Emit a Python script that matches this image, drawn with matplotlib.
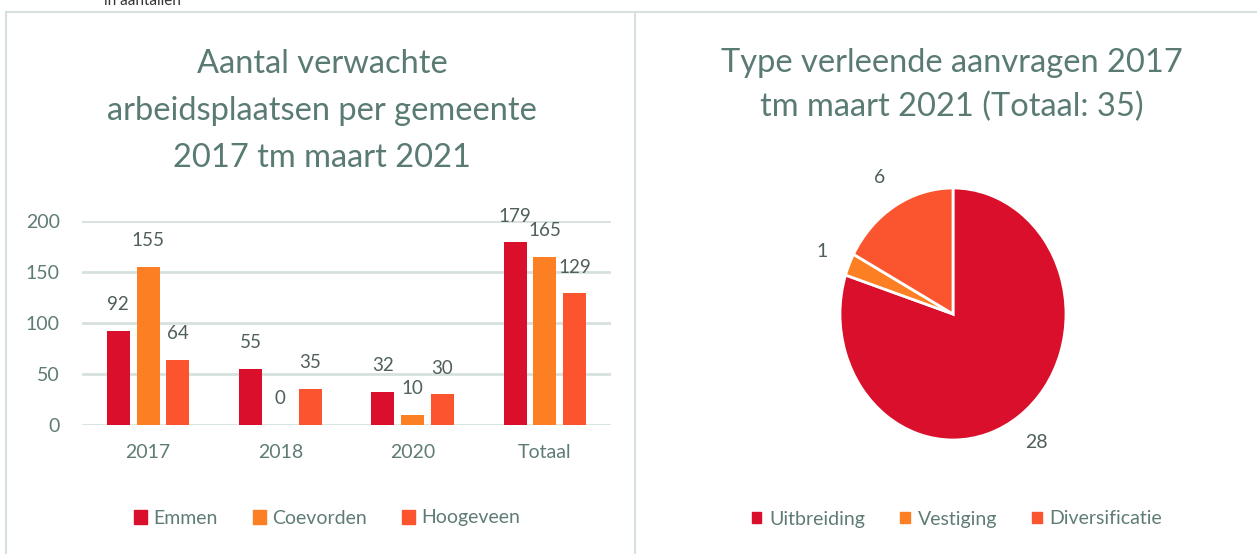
import matplotlib.pyplot as plt
from matplotlib.patches import Patch
from matplotlib.lines import Line2D

# === Données ===
jaren = ["2017", "2018", "2020", "Totaal"]
emmen = [92, 55, 32, 179]
coevorden = [155, 0, 10, 165]
hoogeveen = [64, 35, 30, 129]
gemeenten = ["Emmen", "Coevorden", "Hoogeveen"]

types = ["Uitbreiding", "Vestiging", "Diversificatie"]
aantallen = [28, 1, 6]

# === Style ===
plt.rcParams["font.family"] = ["Lato", "DejaVu Sans"]
C_TITLE = "#5a7a74"
C_TICK = "#5f7b76"
C_LABEL = "#4f5f5b"
C_GRID = "#d6e1de"
bar_colors = ["#d90f2c", "#fd7f23", "#fb542e"]
pie_colors = ["#da0f2b", "#fd7f23", "#fb5530"]

W, H = 1257, 554
fig = plt.figure(figsize=(W / 100, H / 100), dpi=100)


def fx(px):
    return px / W


def fy(py):
    return 1 - py / H


# === Cadres ===
fig.add_artist(Line2D([fx(6), fx(6)], [fy(12), 0], color=C_GRID, lw=1.5))
fig.add_artist(Line2D([fx(6), 1], [fy(12), fy(12)], color=C_GRID, lw=1.5))
fig.add_artist(Line2D([fx(635), fx(635)], [fy(12), 0], color=C_GRID, lw=1.5))

fig.text(fx(104), fy(5), "in aantallen", fontsize=11, color="#333333", va="baseline")

# === Graphique en barres ===
ax = fig.add_axes([fx(82), fy(425), fx(611 - 82), (425 - 221) / H])
x = range(len(jaren))
width = 0.175
step = 0.225
for i, (serie, naam) in enumerate(zip([emmen, coevorden, hoogeveen], gemeenten)):
    pos = [xi + (i - 1) * step for xi in x]
    bars = ax.bar(pos, serie, width=width, color=bar_colors[i], label=naam, zorder=3)
    for b, v in zip(bars, serie):
        ax.annotate(str(v), (b.get_x() + b.get_width() / 2, v), xytext=(0, 19),
                    textcoords="offset points", ha="center", va="center",
                    fontsize=13.5, color=C_LABEL, annotation_clip=False)

ax.set_xlim(-0.5, 3.5)
ax.set_ylim(0, 200)
ax.set_yticks([0, 50, 100, 150, 200])
ax.set_xticks(list(x))
ax.set_xticklabels(jaren)
ax.tick_params(length=0, labelsize=14, labelcolor=C_TICK)
ax.tick_params(axis="x", pad=14)
ax.tick_params(axis="y", pad=16)
ax.grid(axis="y", color=C_GRID, lw=2, zorder=0)
for s in ax.spines.values():
    s.set_visible(False)
ax.set_facecolor("none")

fig.text(fx(322), fy(111), "Aantal verwachte\narbeidsplaatsen per gemeente\n2017 tm maart 2021",
         ha="center", va="center", fontsize=23.5, color=C_TITLE, linespacing=1.7)

handles = [Patch(color=c) for c in bar_colors]
fig.legend(handles, gemeenten, loc="center", bbox_to_anchor=(fx(327), fy(518)), ncol=3,
           frameon=False, fontsize=14, labelcolor=C_TICK, handlelength=0.7,
           handleheight=0.7, handletextpad=0.3, columnspacing=1.8)

# === Graphique circulaire ===
pax = fig.add_axes([fx(953 - 113), fy(314 + 126), fx(226), 252 / H])
totaal = sum(aantallen)
wedges, _, autotexts = pax.pie(
    aantallen, colors=pie_colors, startangle=90, counterclock=False,
    wedgeprops=dict(edgecolor="white", linewidth=2),
    autopct=lambda p: f"{round(p * totaal / 100)}", pctdistance=1.26,
    textprops=dict(fontsize=14, color=C_LABEL))
pax.set_aspect("auto")
pax.set_xlim(-1, 1)
pax.set_ylim(-1, 1)

fig.text(fx(952), fy(85), "Type verleende aanvragen 2017\ntm maart 2021 (Totaal: 35)",
         ha="center", va="center", fontsize=23.5, color=C_TITLE, linespacing=1.55)

fig.legend([Patch(color=c) for c in pie_colors], types, loc="center",
           bbox_to_anchor=(fx(957), fy(519)), ncol=3, frameon=False, fontsize=14,
           labelcolor=C_TICK, handlelength=0.5, handleheight=0.5, handletextpad=0.4,
           columnspacing=1.8)

fig.savefig("out.png", dpi=100)
